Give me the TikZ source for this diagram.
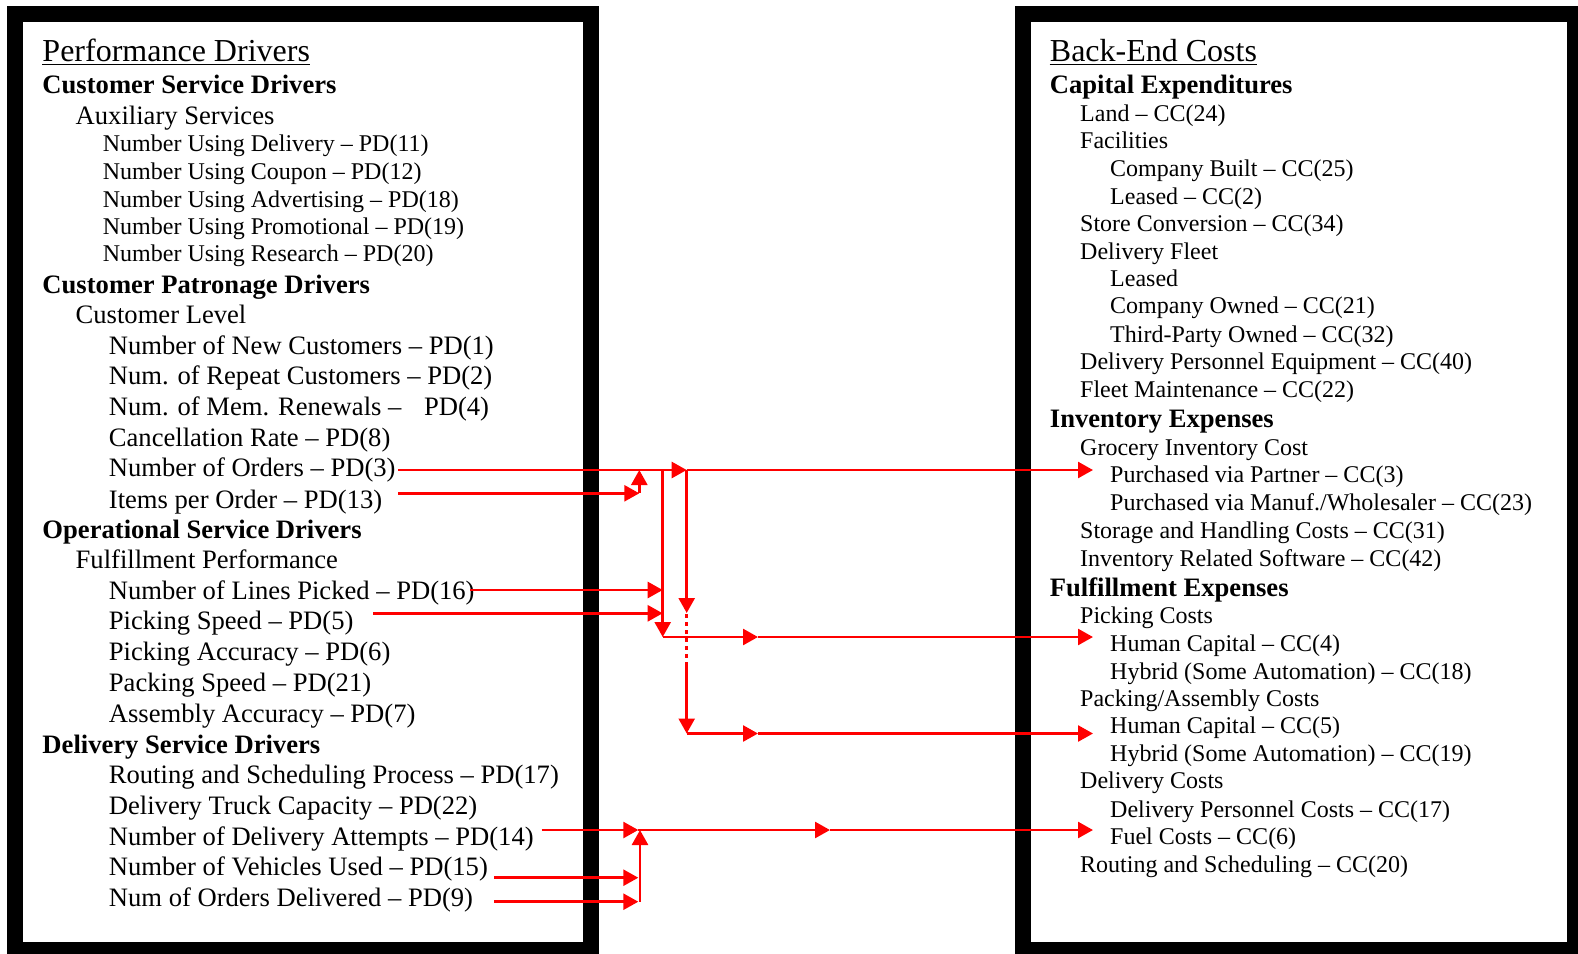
\documentclass[tikz,border=0pt]{standalone}
\usepackage{fontspec}
\setmainfont{Liberation Serif}
\usetikzlibrary{arrows.meta}

\tikzset{
  frame/.style={draw=black, line width=16bp},
  title/.style={anchor=base west, inner sep=0pt, font=\fontsize{32bp}{36bp}\selectfont},
  head/.style={anchor=base west, inner sep=0pt, font=\fontsize{26.6bp}{30bp}\selectfont\bfseries},
  item/.style={anchor=base west, inner sep=0pt, font=\fontsize{26.6bp}{30bp}\selectfont},
  small/.style={anchor=base west, inner sep=0pt, font=\fontsize{24bp}{28bp}\selectfont},
  uline/.style={draw=black, line width=1.8bp},
  link/.style={draw=red, line width=2.6bp},
  arr/.style={link, -{Triangle[length=15bp,width=16bp]}},
  hop/.style={link, dash pattern=on 4bp off 4bp},
}

\begin{document}
\begin{tikzpicture}[x=1bp, y=-1bp]
\useasboundingbox (0,0) rectangle (1578,953);

% the two framed panels
\draw[frame] (15,14) rectangle (591,950);
\draw[frame] (1023,14) rectangle (1575,950);

% ---------- performance drivers ----------
\node[title] (pdT) at (42.3,61) {Performance Drivers};
\draw[uline] ([yshift=-3.5bp]pdT.base west) -- ([yshift=-3.5bp]pdT.base east);

\node[head]  (csd)  at (42.3,93.3)  {Customer Service Drivers};
\node[item]  (aux)  at (75.5,124.5) {Auxiliary Services};
\node[small] (p11)  at (102.7,151.8) {Number Using Delivery – PD(11)};
\node[small] (p12)  at (102.7,179.0) {Number Using Coupon – PD(12)};
\node[small] (p18)  at (102.7,207.2) {Number Using Advertising – PD(18)};
\node[small] (p19)  at (102.7,234.3) {Number Using Promotional – PD(19)};
\node[small] (p20)  at (102.7,261.5) {Number Using Research – PD(20)};

\node[head]  (cpd)  at (42.3,293.6) {Customer Patronage Drivers};
\node[item]  (clv)  at (75.5,323.8) {Customer Level};
\node[item]  (p1)   at (108.7,354.0) {Number of New Customers – PD(1)};
\node[item]  (p2)   at (108.7,384.2) {Num. of Repeat Customers – PD(2)};
\node[item]  (p4)   at (108.7,415.4) {Num. of Mem. Renewals –\hspace{0.6em} PD(4)};
\node[item]  (p8)   at (108.7,446.6) {Cancellation Rate – PD(8)};
\node[item]  (p3)   at (108.7,476.8) {Number of Orders – PD(3)};
\node[item]  (p13)  at (108.7,508.0) {Items per Order – PD(13)};

\node[head]  (osd)  at (42.3,538.2) {Operational Service Drivers};
\node[item]  (ffp)  at (75.5,568.3) {Fulfillment Performance};
\node[item]  (p16)  at (108.7,599.5) {Number of Lines Picked – PD(16)};
\node[item]  (p5)   at (108.7,629.7) {Picking Speed – PD(5)};
\node[item]  (p6)   at (108.7,660.9) {Picking Accuracy – PD(6)};
\node[item]  (p21)  at (108.7,691.1) {Packing Speed – PD(21)};
\node[item]  (p7)   at (108.7,722.3) {Assembly Accuracy – PD(7)};

\node[head]  (dsd)  at (42.3,753.5) {Delivery Service Drivers};
\node[item]  (p17)  at (108.7,783.7) {Routing and Scheduling Process – PD(17)};
\node[item]  (p22)  at (108.7,814.9) {Delivery Truck Capacity – PD(22)};
\node[item]  (p14)  at (108.7,845.1) {Number of Delivery Attempts – PD(14)};
\node[item]  (p15)  at (108.7,875.3) {Number of Vehicles Used – PD(15)};
\node[item]  (p9)   at (108.7,906.5) {Num of Orders Delivered – PD(9)};

% ---------- back-end costs ----------
\node[title] (bcT) at (1049.7,61) {Back-End Costs};
\draw[uline] ([yshift=-3.5bp]bcT.base west) -- ([yshift=-3.5bp]bcT.base east);

\node[head]  (cap)  at (1049.7,93.3)  {Capital Expenditures};
\node[small] (c24)  at (1080,121.6) {Land – CC(24)};
\node[small] (fac)  at (1080,148.8) {Facilities};
\node[small] (c25)  at (1110,176.0) {Company Built – CC(25)};
\node[small] (c2)   at (1110,204.1) {Leased – CC(2)};
\node[small] (c34)  at (1080,231.3) {Store Conversion – CC(34)};
\node[small] (dfl)  at (1080,259.5) {Delivery Fleet};
\node[small] (lsd)  at (1110,286.7) {Leased};
\node[small] (c21)  at (1110,313.8) {Company Owned – CC(21)};
\node[small] (c32)  at (1110,342.0) {Third-Party Owned – CC(32)};
\node[small] (c40)  at (1080,369.2) {Delivery Personnel Equipment – CC(40)};
\node[small] (c22)  at (1080,397.4) {Fleet Maintenance – CC(22)};

\node[head]  (inv)  at (1049.7,427.5) {Inventory Expenses};
\node[small] (gic)  at (1080,455.7) {Grocery Inventory Cost};
\node[small] (c3)   at (1110,482.9) {Purchased via Partner – CC(3)};
\node[small] (c23)  at (1110,510.1) {Purchased via Manuf./Wholesaler – CC(23)};
\node[small] (c31)  at (1080,538.3) {Storage and Handling Costs – CC(31)};
\node[small] (c42)  at (1080,566.4) {Inventory Related Software – CC(42)};

\node[head]  (ful)  at (1049.7,596.5) {Fulfillment Expenses};
\node[small] (pkc)  at (1080,623.8) {Picking Costs};
\node[small] (c4)   at (1110,651.0) {Human Capital – CC(4)};
\node[small] (c18)  at (1110,679.2) {Hybrid (Some Automation) – CC(18)};
\node[small] (pac)  at (1080,706.3) {Packing/Assembly Costs};
\node[small] (c5)   at (1110,733.5) {Human Capital – CC(5)};
\node[small] (c19)  at (1110,761.7) {Hybrid (Some Automation) – CC(19)};
\node[small] (dlc)  at (1080,788.9) {Delivery Costs};
\node[small] (c17)  at (1110,817.0) {Delivery Personnel Costs – CC(17)};
\node[small] (c6)   at (1110,844.2) {Fuel Costs – CC(6)};
\node[small] (c20)  at (1080,872.4) {Routing and Scheduling – CC(20)};

% ---------- connector points ----------
% orders / items per order
\coordinate (oA)  at (398,470);
\coordinate (oJ1) at (662.7,470);
\coordinate (oJ2) at (686.7,470);
\coordinate (oE)  at (1093,470);
\coordinate (iA)  at (398,493.3);
\coordinate (iT)  at (639.3,493.3);
\coordinate (iU)  at (639.3,470);
% picking inputs and picking cost line
\coordinate (lA)  at (470,590);
\coordinate (lT)  at (662.7,590);
\coordinate (sA)  at (373,613.3);
\coordinate (sT)  at (662.7,613.3);
\coordinate (pJ)  at (662.7,637);
\coordinate (pM)  at (758,637);
\coordinate (pE)  at (1093,637);
% packing branch with the hop over the picking line
\coordinate (dH1) at (686.7,613);
\coordinate (dH2) at (686.7,614);
\coordinate (dH3) at (686.7,659);
\coordinate (dH4) at (686.7,662);
\coordinate (kJ)  at (686.7,733.5);
\coordinate (kM)  at (758,733.5);
\coordinate (kE)  at (1093,733.5);
% delivery drivers
\coordinate (aA)  at (541.7,830);
\coordinate (aT)  at (638.3,830);
\coordinate (aM)  at (830,830);
\coordinate (aE)  at (1093,830);
\coordinate (vA)  at (494,877.7);
\coordinate (vT)  at (638.3,877.7);
\coordinate (nA)  at (494,901.7);
\coordinate (nT)  at (638.3,901.7);
\coordinate (uB)  at (640,901.7);
\coordinate (uT)  at (640,830);

% ---------- connectors ----------
\draw[arr] (oA) -- (oJ2);
\draw[arr] (oJ2) -- (oE);
\draw[arr] (iA) -- (iT);
\draw[arr] (iT) -- (iU);

\draw[arr] (lA) -- (lT);
\draw[arr] (sA) -- (sT);
\draw[arr] (oJ1) -- (pJ);
\draw[arr] (pJ) -- (pM);
\draw[arr] (pM) -- (pE);

\draw[arr] (oJ2) -- (dH1);
\draw[hop] (dH2) -- (dH3);
\draw[arr] (dH4) -- (kJ);
\draw[arr] (kJ) -- (kM);
\draw[arr] (kM) -- (kE);

\draw[arr] (aA) -- (aT);
\draw[arr] (aT) -- (aM);
\draw[arr] (aM) -- (aE);
\draw[arr] (vA) -- (vT);
\draw[arr] (nA) -- (nT);
\draw[arr] (uB) -- (uT);
\end{tikzpicture}
\end{document}
